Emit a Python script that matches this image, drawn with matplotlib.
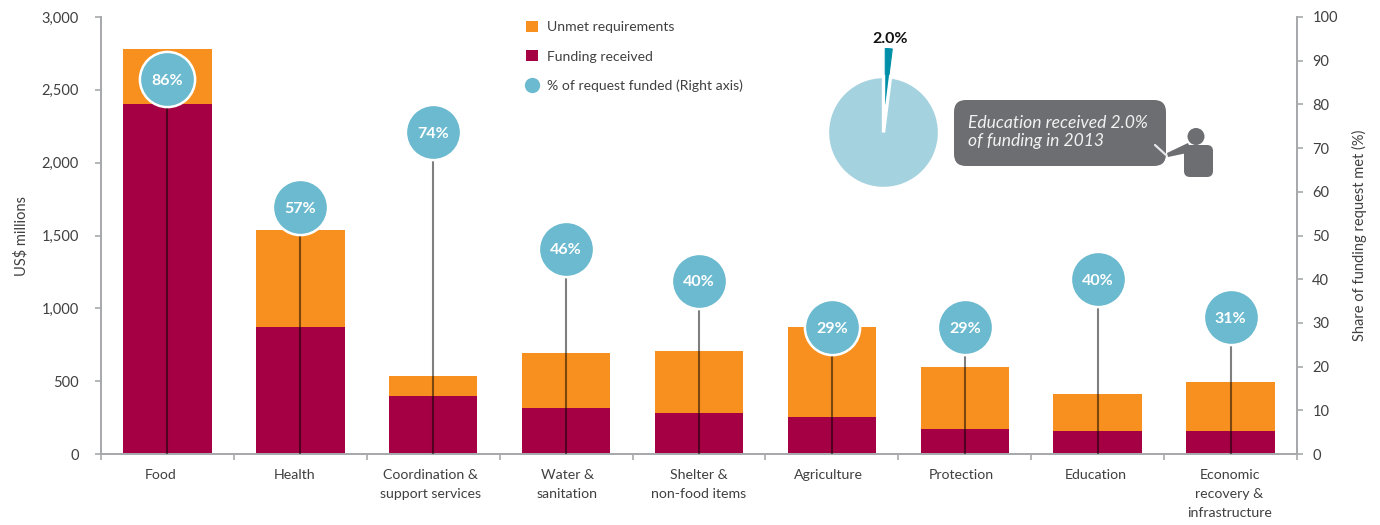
#!/usr/bin/env python3
"""Funding received and unmet requirements by sector, with share of request met."""
import matplotlib
matplotlib.use("Agg")
import matplotlib.pyplot as plt
from matplotlib.patches import Circle, FancyBboxPatch, Polygon
from matplotlib.transforms import ScaledTranslation

plt.rcParams["font.family"] = ["Lato", "DejaVu Sans"]

W, H = 1380, 525
TEXT = "#404041"
AXIS = "#a7a9ac"
ORANGE = "#f7901e"
MAROON = "#a50044"
BLUE = "#6bbacf"
GREY = "#6d6e71"

categories = ["Food", "Health", "Coordination &\nsupport services", "Water &\nsanitation",
              "Shelter &\nnon-food items", "Agriculture", "Protection", "Education",
              "Economic\nrecovery &\ninfrastructure"]
funding = [2400, 870, 400, 316, 281, 255, 170, 160, 160]
unmet = [380, 670, 135, 379, 424, 615, 430, 250, 335]
pct_funded = [86, 57, 74, 46, 40, 29, 29, 40, 31]
# the bubbles sit a little off their printed value in the original
pct_height = [85.7, 56.5, 73.6, 47, 39.6, 29, 29, 40, 31.3]
left_ticks = [0, 500, 1000, 1500, 2000, 2500, 3000]
right_ticks = list(range(0, 101, 10))
pie_values = [2.0, 98.0]

fig = plt.figure(figsize=(W / 100, H / 100), dpi=100)
ax = fig.add_axes([101 / W, 1 - 454 / H, (1297 - 101) / W, (454 - 17) / H])
xs = list(range(len(categories)))

b1 = ax.bar(xs, funding, width=0.665, color=MAROON, label="Funding received", zorder=2)
b2 = ax.bar(xs, unmet, width=0.665, bottom=funding, color=ORANGE, label="Unmet requirements", zorder=2)
ax.set_xlim(-0.5, len(categories) - 0.5)
ax.set_ylim(0, 3000)
ax.set_yticks(left_ticks)
ax.set_yticklabels([f"{v:,}" for v in left_ticks])
ax.set_xticks([x - 0.5 for x in range(len(categories) + 1)], minor=False)
ax.set_xticklabels([])
ax.set_xticks(xs, categories, minor=True)
ax.tick_params(axis="x", which="major", length=4, width=1.2, color=AXIS)
ax.tick_params(axis="x", which="minor", length=0, pad=11, labelsize=10.2, labelcolor=TEXT)
ax.tick_params(axis="y", length=4, width=1.2, color=AXIS, labelsize=10.5, labelcolor=TEXT, pad=12)
ax.set_ylabel("US$ millions", fontsize=10.5, color=TEXT, labelpad=9.5)

label_shift = [-7, -6, -3, 1, 0, -3, -3, -2, -1]
for label, dx in zip(ax.get_xticklabels(minor=True), label_shift):
    label.set_linespacing(1.68)
    label.set_transform(label.get_transform() + ScaledTranslation(dx / 100, 0, fig.dpi_scale_trans))

ax2 = ax.twinx()
ax2.set_ylim(0, 100)
ax2.set_yticks(right_ticks)
ax2.tick_params(axis="y", length=4, width=1.2, color=AXIS, labelsize=10.5, labelcolor=TEXT, pad=7)
ax2.set_ylabel("Share of funding request met (%)", fontsize=10.5, color=TEXT, labelpad=10.5)
ax2.vlines(xs, 0, pct_height, color="black", alpha=0.5, lw=1.5, zorder=3)
ax2.scatter(xs, pct_height, s=1580, color=BLUE, edgecolor="white", linewidth=1.8,
            zorder=4, clip_on=False, label="% of request funded (Right axis)")
for x, y, v in zip(xs, pct_height, pct_funded):
    ax2.text(x, y, f"{v}%", ha="center", va="center_baseline", color="white", fontsize=11.5,
             fontweight="bold", zorder=5)

for a in (ax, ax2):
    a.spines["top"].set_visible(False)
    for side in ("left", "right", "bottom"):
        a.spines[side].set_color(AXIS)
        a.spines[side].set_linewidth(1.4)

legend_dot = plt.Line2D([], [], marker="o", ls="", ms=10, color=BLUE)
ax2.legend([b2, b1, legend_dot],
           ["Unmet requirements", "Funding received", "% of request funded (Right axis)"],
           loc="upper left", bbox_to_anchor=(526 / W, 1 - 21 / H), bbox_transform=fig.transFigure,
           frameon=False, fontsize=10.1, labelcolor=TEXT, handlelength=0.85, handleheight=0.85,
           handletextpad=0.62, labelspacing=1.2, borderpad=0, borderaxespad=0)

# pie inset
pie_r = 56
pie_box = 170
pie_ax = fig.add_axes([(883.5 - pie_box / 2) / W, 1 - (132.5 + pie_box / 2) / H, pie_box / W, pie_box / H])
wedges, _ = pie_ax.pie(pie_values, colors=["#008fa8", "#a5d2df"], startangle=90, counterclock=False,
                       explode=[0.5, 0], radius=1.0)
wedges[0].set(edgecolor="#008fa8", linewidth=0.8)
wedges[1].set(edgecolor="white", linewidth=2.4)
pie_ax.set_xlim(-pie_box / 2 / pie_r, pie_box / 2 / pie_r)
pie_ax.set_ylim(-pie_box / 2 / pie_r, pie_box / 2 / pie_r)
pie_ax.set_aspect("equal")

# overlay in pixel coordinates for the speech bubble and its figure
over = fig.add_axes([0, 0, 1, 1], facecolor="none")
over.set_xlim(0, W)
over.set_ylim(H, 0)
over.axis("off")
over.text(890.5, 39, "2.0%", ha="center", va="center", fontsize=11.5, fontweight="bold", color="#111111")
over.add_patch(FancyBboxPatch((954 + 12, 100 + 12), 212 - 24, 66 - 24,
                              boxstyle="round,pad=12,rounding_size=12", fc=GREY, ec="none"))
over.text(968, 132, "Education received 2.0%\nof funding in 2013", ha="left", va="center",
          fontsize=12.6, style="italic", color="#f1f2f2", linespacing=1.22)
over.plot([1155, 1166], [145, 155], color="#e6e7e8", lw=1.6, solid_capstyle="round")
over.add_patch(Circle((1196, 136.5), 8.5, fc=GREY, ec="none"))
over.add_patch(FancyBboxPatch((1184, 145), 29, 32, boxstyle="round,pad=0,rounding_size=6", fc=GREY, ec="none"))
over.add_patch(Polygon([(1167, 153), (1188, 143), (1192, 152), (1168, 157)], fc=GREY, ec="none"))

fig.savefig("out.png", dpi=100)
